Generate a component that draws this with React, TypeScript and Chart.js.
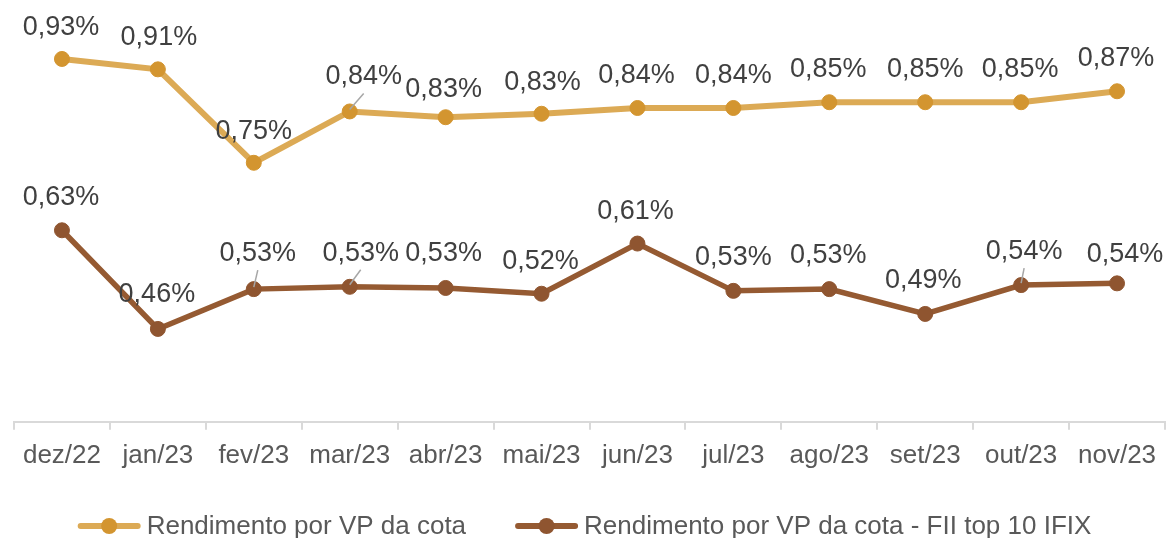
import React, { useEffect, useRef } from "react";
import { Chart, registerables } from "chart.js";

Chart.register(...registerables);

// ---- Data ----
const categories = ["dez/22", "jan/23", "fev/23", "mar/23", "abr/23", "mai/23", "jun/23", "jul/23", "ago/23", "set/23", "out/23", "nov/23"];
const seriesNames = ["Rendimento por VP da cota", "Rendimento por VP da cota - FII top 10 IFIX"];
const rendimentoCota = [0.929, 0.911, 0.749, 0.838, 0.828, 0.834, 0.844, 0.844, 0.854, 0.854, 0.854, 0.873];
const rendimentoTop10 = [0.632, 0.461, 0.530, 0.534, 0.532, 0.522, 0.609, 0.527, 0.530, 0.487, 0.537, 0.540];

// ---- Layout of data labels (pixel offsets from the point; leader = draw leader line) ----
const labelOffsetsCota: [number, number, boolean][] = [
  [-1, -34, false], [1, -34, false], [0, -34, false], [14, -37, true], [-2, -30, false], [1, -34, false],
  [-1, -35, false], [0, -35, false], [-1, -35, false], [0, -35, false], [-1, -35, false], [-1, -35, false],
];
const labelOffsetsTop10: [number, number, boolean][] = [
  [-1, -35, false], [-1, -37, false], [4, -38, true], [11, -36, true], [-2, -37, false], [-1, -35, false],
  [-2, -35, false], [0, -36, false], [-1, -36, false], [-2, -36, false], [3, -36, true], [8, -31, false],
];

const FONT = '"Liberation Sans", Arial, Helvetica, sans-serif';
const lineColors = ["#DCAA55", "#955A32"];
const pointColors = ["#D39530", "#8F5530"];

const fmt = (v: number) => v.toFixed(2).replace(".", ",") + "%";

const labelsPlugin = {
  id: "customLabels",
  afterDatasetsDraw(chart: any) {
    const ctx = chart.ctx;
    const offsetsAll = [labelOffsetsCota, labelOffsetsTop10];
    ctx.save();
    ctx.font = `27px ${FONT}`;
    ctx.textAlign = "center";
    ctx.textBaseline = "alphabetic";
    chart.data.datasets.forEach((ds: any, di: number) => {
      const meta = chart.getDatasetMeta(di);
      meta.data.forEach((pt: any, i: number) => {
        const [dx, dy, leader] = offsetsAll[di][i];
        const lx = pt.x + dx;
        const ly = pt.y + dy;
        if (leader) {
          ctx.strokeStyle = "#A6A6A6";
          ctx.lineWidth = 1.5;
          ctx.beginPath();
          ctx.moveTo(pt.x, pt.y - 2);
          ctx.lineTo(lx, ly + 19);
          ctx.stroke();
        }
        ctx.fillStyle = "#404040";
        ctx.fillText(fmt(ds.data[i]), lx, ly + 10);
      });
    });
    ctx.restore();

    // Legend
    ctx.save();
    ctx.font = `26px ${FONT}`;
    const sampleW = 63;
    const gapText = 6;
    const gapItems = 49;
    const widths = seriesNames.map((n) => sampleW + gapText + ctx.measureText(n).width);
    const total = widths[0] + widths[1] + gapItems;
    let x = (chart.width - total) / 2;
    const yLine = 526;
    seriesNames.forEach((name, i) => {
      ctx.strokeStyle = lineColors[i];
      ctx.lineWidth = 6;
      ctx.lineCap = "round";
      ctx.beginPath();
      ctx.moveTo(x + 3, yLine);
      ctx.lineTo(x + sampleW - 3, yLine);
      ctx.stroke();
      ctx.fillStyle = pointColors[i];
      ctx.beginPath();
      ctx.arc(x + sampleW / 2, yLine, 8, 0, Math.PI * 2);
      ctx.fill();
      ctx.fillStyle = "#595959";
      ctx.textAlign = "left";
      ctx.textBaseline = "alphabetic";
      ctx.fillText(name, x + sampleW + gapText, 534);
      x += widths[i] + gapItems;
    });
    ctx.restore();
  },
};

export default function App() {
  const ref = useRef<HTMLCanvasElement>(null);
  useEffect(() => {
    document.body.style.margin = "0";
    Chart.defaults.font.family = FONT;
    const chart = new Chart(ref.current!, {
      type: "line",
      data: {
        labels: categories,
        datasets: [rendimentoCota, rendimentoTop10].map((d, i) => ({
          label: seriesNames[i],
          data: d,
          borderColor: lineColors[i],
          backgroundColor: pointColors[i],
          borderWidth: i === 0 ? 6 : 5.5,
          pointRadius: 7.5,
          pointBorderWidth: 1,
          pointBorderColor: pointColors[i],
          pointBackgroundColor: pointColors[i],
          tension: 0,
          fill: false,
        })),
      },
      options: {
        responsive: false,
        animation: false,
        layout: { autoPadding: false, padding: { top: 18, left: 14, right: 4, bottom: 57 } },
        plugins: { legend: { display: false }, tooltip: { enabled: false } },
        scales: {
          x: {
            offset: true,
            grid: { display: true, drawOnChartArea: false, drawTicks: true, tickLength: 8, color: "#D9D9D9", lineWidth: 2, offset: true },
            border: { display: true, color: "#D9D9D9", width: 2 },
            ticks: { color: "#595959", font: { size: 26 }, padding: 10, maxRotation: 0, autoSkip: false },
          },
          y: { display: false, min: 0.3, max: 1.0 },
        },
      },
      plugins: [labelsPlugin],
    });
    return () => chart.destroy();
  }, []);
  return (
    <div style={{ width: 1169, height: 538 }}>
      <canvas ref={ref} width={1169} height={538} style={{ display: "block" }} />
    </div>
  );
}
